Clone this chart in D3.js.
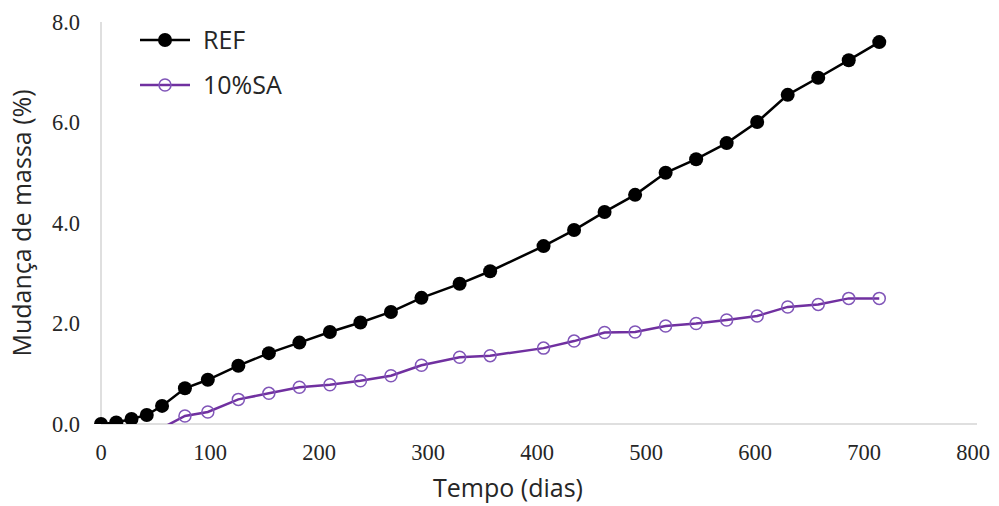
<!DOCTYPE html>
<html>
<head>
<meta charset="utf-8">
<script src="https://cdn.jsdelivr.net/npm/d3@7/dist/d3.min.js"></script>
<style>
  html, body { margin: 0; padding: 0; background: #ffffff; }
  svg { display: block; }
  .tick-label { font-family: "Liberation Serif", "Times New Roman", serif; font-size: 22.5px; fill: #262626; }
  .title { font-family: "Open Sans", "Noto Sans", sans-serif; font-size: 25px; fill: #262626; }
  .legend-text { font-family: "Open Sans", "Noto Sans", sans-serif; font-size: 25px; fill: #262626; }
</style>
</head>
<body>
<svg id="chart" width="999" height="506"></svg>
<script>
// Time in days for each weighing
const daysRef = [0, 14, 28, 42, 56, 77, 98, 126, 154, 182, 210, 238, 266, 294, 329, 357, 406, 434, 462, 490, 518, 546, 574, 602, 630, 658, 686, 714];
// Mass change (%) of the reference mix
const massRef = [0.00, 0.03, 0.10, 0.18, 0.36, 0.71, 0.88, 1.16, 1.41, 1.62, 1.83, 2.02, 2.23, 2.51, 2.79, 3.04, 3.54, 3.86, 4.22, 4.56, 5.00, 5.27, 5.59, 6.01, 6.55, 6.89, 7.24, 7.60];

const daysSA = [56, 77, 98, 126, 154, 182, 210, 238, 266, 294, 329, 357, 406, 434, 462, 490, 518, 546, 574, 602, 630, 658, 686, 714];
// Mass change (%) of the mix with 10% SA
const massSA = [-0.08, 0.16, 0.24, 0.49, 0.61, 0.73, 0.78, 0.86, 0.96, 1.17, 1.33, 1.36, 1.51, 1.65, 1.82, 1.83, 1.95, 2.00, 2.07, 2.15, 2.33, 2.38, 2.50, 2.50];

const xTicks = [0, 100, 200, 300, 400, 500, 600, 700, 800];
const yTicks = [0, 2, 4, 6, 8];

const seriesNames = ["REF", "10%SA"];
const xTitle = "Tempo (dias)";
const yTitle = "Mudança de massa (%)";

(function draw() {
  const svg = d3.select("#chart");
  const pl = 101, pr = 973, pt = 22, pb = 424;

  const x = d3.scaleLinear().domain([0, 800]).range([pl, pr]);
  const y = d3.scaleLinear().domain([0, 8]).range([pb, pt]);

  const refData = daysRef.map((d, i) => ({ d, v: massRef[i] }));
  const saData = daysSA.map((d, i) => ({ d, v: massSA[i] }));

  // Clip region for the plot area
  svg.append("defs").append("clipPath").attr("id", "plot-clip")
    .append("rect")
    .attr("x", pl - 10).attr("y", pt - 10)
    .attr("width", pr - pl + 20).attr("height", pb - pt + 10);

  // Axis lines
  svg.append("line")
    .attr("x1", pl).attr("x2", pr + 4)
    .attr("y1", y(0)).attr("y2", y(0))
    .attr("stroke", "#d4d4d4").attr("stroke-width", 1.5);
  svg.append("line")
    .attr("x1", pl).attr("x2", pl)
    .attr("y1", y(0)).attr("y2", y(8))
    .attr("stroke", "#d4d4d4").attr("stroke-width", 1.5);

  // Tick labels
  svg.append("g").selectAll("text").data(xTicks).join("text")
    .attr("class", "tick-label")
    .attr("x", d => x(d)).attr("y", pb + 36)
    .attr("text-anchor", "middle")
    .text(d => d);

  svg.append("g").selectAll("text").data(yTicks).join("text")
    .attr("class", "tick-label")
    .attr("x", pl - 21).attr("y", d => y(d))
    .attr("dy", "0.35em")
    .attr("text-anchor", "end")
    .text(d => d3.format(".1f")(d));

  // Axis titles
  svg.append("text").attr("class", "title")
    .attr("x", 508).attr("y", 497)
    .attr("text-anchor", "middle")
    .text(xTitle);

  svg.append("text").attr("class", "title")
    .attr("transform", `translate(31, ${(pt + pb) / 2}) rotate(-90)`)
    .attr("text-anchor", "middle")
    .text(yTitle);

  const line = d3.line().x(p => x(p.d)).y(p => y(p.v));
  const plot = svg.append("g").attr("clip-path", "url(#plot-clip)");

  const saColor = "#7030a0";
  const saMarker = "#8055b8";

  // 10%SA series
  plot.append("path").datum(saData)
    .attr("d", line)
    .attr("fill", "none").attr("stroke", saColor).attr("stroke-width", 2.5);
  plot.append("g").selectAll("circle").data(saData.filter(p => p.v >= 0)).join("circle")
    .attr("cx", p => x(p.d)).attr("cy", p => y(p.v)).attr("r", 6)
    .attr("fill", "none").attr("stroke", saMarker).attr("stroke-width", 1.5);

  // REF series
  plot.append("path").datum(refData)
    .attr("d", line)
    .attr("fill", "none").attr("stroke", "#000000").attr("stroke-width", 2.5);
  plot.append("g").selectAll("circle").data(refData).join("circle")
    .attr("cx", p => x(p.d)).attr("cy", p => y(p.v)).attr("r", 7)
    .attr("fill", "#000000");

  // Legend
  const legend = svg.append("g");
  const legendRows = [
    { name: seriesNames[0], ly: 40, stroke: "#000000", filled: true },
    { name: seriesNames[1], ly: 85, stroke: saColor, filled: false }
  ];
  legendRows.forEach(r => {
    legend.append("line")
      .attr("x1", 140).attr("x2", 190).attr("y1", r.ly).attr("y2", r.ly)
      .attr("stroke", r.stroke).attr("stroke-width", 2.5);
    if (r.filled) {
      legend.append("circle").attr("cx", 165).attr("cy", r.ly).attr("r", 7).attr("fill", "#000000");
    } else {
      legend.append("circle").attr("cx", 165).attr("cy", r.ly).attr("r", 6)
        .attr("fill", "none").attr("stroke", saMarker).attr("stroke-width", 1.5);
    }
    legend.append("text").attr("class", "legend-text")
      .attr("x", 203).attr("y", r.ly).attr("dy", "0.36em")
      .text(r.name);
  });
})();
</script>
</body>
</html>
